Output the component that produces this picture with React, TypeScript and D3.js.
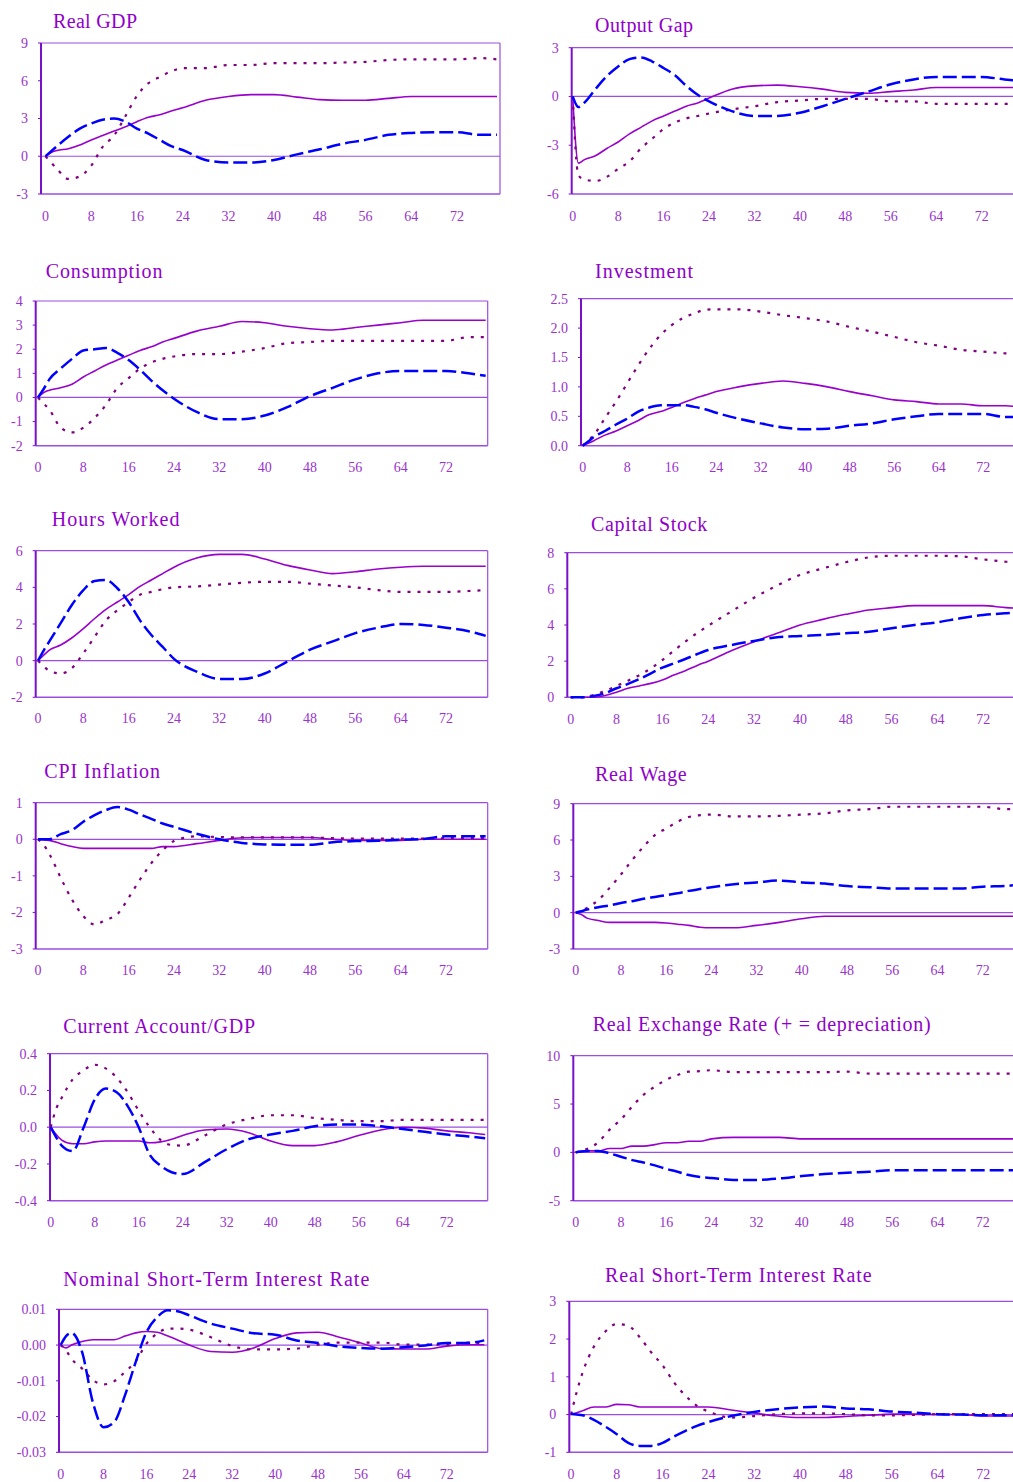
import React from "react";
import * as d3 from "d3";

// Quarters after the shock at which the responses are sampled
const periods = [0, 1, 2, 4, 6, 8, 10, 12, 14, 16, 18, 20, 22, 24, 28, 32, 36, 40, 44, 48, 52, 56, 60, 64, 68, 72, 76, 79];
const xTicks = [0, 8, 16, 24, 32, 40, 48, 56, 64, 72];

// A = solid, B = dotted, C = dashed
const realGdpA = [0, 0.3, 0.45, 0.6, 0.9, 1.3, 1.65, 2.0, 2.35, 2.75, 3.1, 3.3, 3.6, 3.85, 4.45, 4.75, 4.9, 4.9, 4.7, 4.5, 4.45, 4.45, 4.6, 4.75, 4.75, 4.75, 4.75, 4.75];
const realGdpB = [0, -0.5, -1.0, -1.8, -1.6, -0.75, 0.75, 1.65, 3.2, 4.8, 5.8, 6.3, 6.75, 7.0, 7.0, 7.25, 7.25, 7.4, 7.4, 7.4, 7.45, 7.5, 7.65, 7.7, 7.7, 7.7, 7.8, 7.7];
const realGdpC = [0, 0.4, 0.8, 1.55, 2.2, 2.6, 2.9, 3.0, 2.75, 2.2, 1.8, 1.3, 0.8, 0.5, -0.3, -0.5, -0.5, -0.3, 0.15, 0.55, 1.0, 1.3, 1.7, 1.85, 1.9, 1.9, 1.7, 1.7];
const realGdpTicks = [9, 6, 3, 0, -3];

const outputGapA = [0, -4.1, -3.9, -3.65, -3.2, -2.8, -2.3, -1.9, -1.5, -1.2, -0.9, -0.6, -0.4, -0.1, 0.45, 0.65, 0.7, 0.6, 0.45, 0.25, 0.2, 0.3, 0.4, 0.55, 0.55, 0.55, 0.55, 0.55];
const outputGapB = [0, -4.85, -5.1, -5.2, -4.95, -4.45, -4.0, -3.2, -2.6, -2.0, -1.6, -1.35, -1.2, -1.05, -0.8, -0.6, -0.35, -0.25, -0.15, -0.15, -0.15, -0.3, -0.3, -0.45, -0.45, -0.45, -0.45, -0.45];
const outputGapC = [0, -0.65, -0.4, 0.45, 1.25, 1.85, 2.3, 2.4, 2.15, 1.75, 1.3, 0.65, 0.1, -0.3, -0.9, -1.2, -1.2, -1.0, -0.6, -0.15, 0.3, 0.75, 1.05, 1.2, 1.2, 1.2, 1.05, 0.95];
const outputGapTicks = [3, 0, -3, -6];

const consumptionA = [0, 0.2, 0.3, 0.4, 0.55, 0.85, 1.1, 1.35, 1.55, 1.75, 1.95, 2.1, 2.3, 2.45, 2.75, 2.95, 3.15, 3.1, 2.95, 2.85, 2.8, 2.9, 3.0, 3.1, 3.2, 3.2, 3.2, 3.2];
const consumptionB = [0, -0.25, -0.5, -1.25, -1.45, -1.25, -0.85, -0.3, 0.4, 0.8, 1.2, 1.45, 1.6, 1.7, 1.8, 1.8, 1.9, 2.05, 2.25, 2.3, 2.35, 2.35, 2.35, 2.35, 2.35, 2.35, 2.5, 2.5];
const consumptionC = [0, 0.35, 0.75, 1.2, 1.6, 1.95, 2.0, 2.05, 1.85, 1.55, 1.15, 0.7, 0.3, -0.05, -0.6, -0.9, -0.9, -0.75, -0.4, 0.05, 0.4, 0.75, 1.0, 1.1, 1.1, 1.1, 1.0, 0.9];
const consumptionTicks = [4, 3, 2, 1, 0, -1, -2];

const investmentA = [0, 0.04, 0.085, 0.18, 0.25, 0.34, 0.43, 0.53, 0.58, 0.65, 0.73, 0.8, 0.86, 0.92, 1.0, 1.06, 1.1, 1.06, 1.0, 0.92, 0.85, 0.78, 0.75, 0.71, 0.71, 0.68, 0.68, 0.65];
const investmentB = [0, 0.09, 0.18, 0.47, 0.75, 1.06, 1.37, 1.65, 1.88, 2.05, 2.17, 2.25, 2.31, 2.32, 2.32, 2.28, 2.22, 2.17, 2.11, 2.02, 1.94, 1.85, 1.76, 1.7, 1.63, 1.6, 1.57, 1.56];
const investmentC = [0, 0.07, 0.15, 0.25, 0.36, 0.46, 0.58, 0.65, 0.69, 0.69, 0.69, 0.66, 0.62, 0.56, 0.46, 0.38, 0.31, 0.28, 0.29, 0.34, 0.38, 0.45, 0.5, 0.54, 0.54, 0.54, 0.49, 0.49];
const investmentTicks = [2.5, 2.0, 1.5, 1.0, 0.5, 0.0];

const hoursA = [0, 0.3, 0.58, 0.85, 1.25, 1.75, 2.3, 2.8, 3.2, 3.6, 4.05, 4.4, 4.75, 5.1, 5.6, 5.8, 5.8, 5.55, 5.2, 4.95, 4.75, 4.85, 5.0, 5.1, 5.15, 5.15, 5.15, 5.15];
const hoursB = [0, -0.3, -0.55, -0.7, -0.4, 0.4, 1.3, 2.2, 2.75, 3.2, 3.6, 3.75, 3.9, 4.0, 4.05, 4.15, 4.25, 4.3, 4.3, 4.2, 4.1, 4.0, 3.85, 3.75, 3.75, 3.75, 3.8, 3.85];
const hoursC = [0, 0.55, 1.05, 2.05, 3.05, 3.85, 4.35, 4.4, 3.95, 3.2, 2.2, 1.4, 0.75, 0.1, -0.6, -1.0, -1.0, -0.7, -0.05, 0.6, 1.05, 1.5, 1.8, 2.0, 1.95, 1.8, 1.6, 1.35];
const hoursTicks = [6, 4, 2, 0, -2];

const capitalA = [0, 0, 0, 0, 0.1, 0.28, 0.5, 0.63, 0.77, 0.96, 1.23, 1.47, 1.75, 2.0, 2.58, 3.08, 3.54, 4.0, 4.31, 4.59, 4.83, 4.96, 5.07, 5.07, 5.07, 5.07, 4.96, 4.93];
const capitalB = [0, 0, 0, 0.13, 0.35, 0.63, 0.92, 1.23, 1.6, 2.06, 2.58, 3.08, 3.54, 3.96, 4.74, 5.51, 6.18, 6.77, 7.13, 7.47, 7.74, 7.83, 7.83, 7.83, 7.8, 7.63, 7.5, 7.45];
const capitalC = [0, 0, 0, 0.07, 0.22, 0.5, 0.74, 1.01, 1.33, 1.64, 1.88, 2.12, 2.38, 2.62, 2.89, 3.12, 3.32, 3.39, 3.45, 3.54, 3.63, 3.82, 4.0, 4.15, 4.37, 4.55, 4.65, 4.7];
const capitalTicks = [8, 6, 4, 2, 0];

const cpiA = [0, -0.02, -0.03, -0.12, -0.2, -0.25, -0.25, -0.25, -0.25, -0.25, -0.25, -0.25, -0.2, -0.2, -0.12, -0.03, 0.04, 0.05, 0.05, 0.05, 0, -0.03, -0.03, -0.03, 0, 0, 0, 0];
const cpiB = [0, -0.15, -0.4, -1.05, -1.65, -2.1, -2.33, -2.2, -2.05, -1.6, -1.1, -0.65, -0.3, -0.05, 0.08, 0.06, 0.05, 0.05, 0.05, 0.05, 0.03, 0.02, 0.02, 0.02, 0.02, 0.03, 0.03, 0.03];
const cpiC = [0, 0, 0, 0.14, 0.25, 0.48, 0.66, 0.8, 0.88, 0.81, 0.68, 0.56, 0.43, 0.34, 0.15, 0, -0.1, -0.14, -0.15, -0.15, -0.08, -0.05, -0.04, -0.01, 0.01, 0.08, 0.08, 0.08];
const cpiTicks = [1, 0, -1, -2, -3];

const wageA = [0, -0.15, -0.45, -0.65, -0.8, -0.8, -0.8, -0.8, -0.8, -0.85, -0.95, -1.05, -1.2, -1.25, -1.25, -1.05, -0.8, -0.5, -0.3, -0.3, -0.3, -0.3, -0.3, -0.3, -0.3, -0.3, -0.3, -0.3];
const wageB = [0, 0.15, 0.4, 1.05, 2.05, 3.15, 4.35, 5.45, 6.4, 6.95, 7.5, 7.9, 8.05, 8.1, 7.95, 7.95, 8.0, 8.1, 8.2, 8.45, 8.55, 8.75, 8.75, 8.75, 8.75, 8.75, 8.55, 8.55];
const wageC = [0, 0.12, 0.25, 0.45, 0.6, 0.8, 0.95, 1.15, 1.3, 1.45, 1.6, 1.8, 1.95, 2.1, 2.35, 2.5, 2.65, 2.5, 2.4, 2.2, 2.1, 2.0, 2.0, 2.0, 2.0, 2.15, 2.2, 2.4];
const wageTicks = [9, 6, 3, 0, -3];

const currentAccountA = [0, -0.04, -0.07, -0.09, -0.09, -0.08, -0.075, -0.075, -0.075, -0.075, -0.085, -0.08, -0.065, -0.045, -0.015, -0.01, -0.03, -0.075, -0.1, -0.1, -0.08, -0.045, -0.015, 0, -0.005, -0.02, -0.03, -0.04];
const currentAccountB = [0, 0.1, 0.16, 0.26, 0.31, 0.34, 0.32, 0.27, 0.19, 0.09, 0, -0.07, -0.097, -0.1, -0.045, 0.015, 0.045, 0.065, 0.065, 0.05, 0.04, 0.033, 0.033, 0.04, 0.04, 0.04, 0.04, 0.04];
const currentAccountC = [0, -0.055, -0.1, -0.13, 0.0, 0.15, 0.21, 0.19, 0.115, 0.0, -0.15, -0.21, -0.245, -0.255, -0.19, -0.12, -0.065, -0.04, -0.02, 0.005, 0.015, 0.015, 0.005, -0.01, -0.025, -0.04, -0.05, -0.06];
const currentAccountTicks = [0.4, 0.2, 0.0, -0.2, -0.4];

const exchangeRateA = [0, 0.1, 0.15, 0.15, 0.4, 0.4, 0.65, 0.65, 0.8, 1.0, 1.0, 1.15, 1.15, 1.4, 1.55, 1.55, 1.55, 1.4, 1.4, 1.4, 1.4, 1.4, 1.4, 1.4, 1.4, 1.4, 1.4, 1.4];
const exchangeRateB = [0, 0.15, 0.35, 1.05, 2.35, 3.4, 4.75, 5.95, 6.8, 7.5, 8.0, 8.35, 8.4, 8.5, 8.3, 8.3, 8.3, 8.3, 8.3, 8.35, 8.15, 8.15, 8.15, 8.15, 8.15, 8.15, 8.15, 8.15];
const exchangeRateC = [0, 0.1, 0.15, 0.15, -0.1, -0.45, -0.8, -1.05, -1.35, -1.7, -2.0, -2.35, -2.55, -2.65, -2.85, -2.85, -2.7, -2.45, -2.25, -2.1, -2.0, -1.85, -1.85, -1.85, -1.85, -1.85, -1.85, -1.85];
const exchangeRateTicks = [10, 5, 0, -5];

const nominalRateA = [0, -0.0008, 0, 0.001, 0.0015, 0.0015, 0.0015, 0.0025, 0.0034, 0.0038, 0.0036, 0.0025, 0.0013, 0, -0.0018, -0.002, -0.0008, 0.0018, 0.0034, 0.0036, 0.0022, 0.0006, -0.001, -0.0011, -0.0011, -0.0003, 0.0001, 0.0001];
const nominalRateB = [0, -0.0015, -0.0038, -0.0066, -0.0098, -0.011, -0.0101, -0.0075, -0.0045, 0.0004, 0.0032, 0.0046, 0.0046, 0.0043, 0.0022, -0.0003, -0.0012, -0.0012, -0.001, 0.0001, 0.0007, 0.0007, 0.0007, 0.0001, 0.0001, 0.0001, 0.0007, 0.0004];
const nominalRateC = [0, 0.0025, 0.0034, -0.002, -0.016, -0.023, -0.0215, -0.014, -0.0047, 0.0036, 0.0078, 0.0097, 0.0094, 0.0083, 0.006, 0.0046, 0.0033, 0.0029, 0.0013, 0.0006, -0.0004, -0.0008, -0.001, -0.0006, -0.0001, 0.0006, 0.0006, 0.0013];
const nominalRateTicks = [0.01, 0.0, -0.01, -0.02, -0.03];

const realRateA = [0, 0.05, 0.1, 0.2, 0.2, 0.27, 0.26, 0.2, 0.2, 0.2, 0.2, 0.2, 0.2, 0.2, 0.12, 0.04, -0.04, -0.08, -0.08, -0.05, -0.02, 0.01, 0.01, 0, 0, -0.04, -0.04, -0.04];
const realRateB = [0, 0.6, 1.1, 1.8, 2.2, 2.4, 2.35, 2.05, 1.65, 1.3, 0.85, 0.5, 0.23, 0.08, -0.08, -0.04, 0.01, 0.03, 0.03, 0.01, -0.02, -0.02, -0.01, 0.01, 0.01, 0.01, 0.01, 0.01];
const realRateC = [0.02, 0, -0.02, -0.14, -0.32, -0.52, -0.75, -0.83, -0.83, -0.75, -0.58, -0.43, -0.3, -0.2, -0.04, 0.07, 0.14, 0.19, 0.21, 0.16, 0.14, 0.08, 0.05, 0.01, 0, -0.02, -0.02, -0.02];
const realRateTicks = [3, 2, 1, 0, -1];

// Panel layout (pixel frames) and which data each panel uses
type Panel = {
  title: string; tx: number; ty: number; tw: number;
  left: number; top: number; right: number; bottom: number;
  x0: number; x72: number; xLabelY: number;
  domain: [number, number]; ticks: number[]; fmt: string;
  series: number[][];
};

const panels: Panel[] = [
  { title: "Real GDP", tx: 53, ty: 28, tw: 84, left: 41, top: 43, right: 500, bottom: 194, x0: 45.5, x72: 457, xLabelY: 220.5, domain: [-3, 9], ticks: realGdpTicks, fmt: "d", series: [realGdpA, realGdpB, realGdpC] },
  { title: "Output Gap", tx: 595, ty: 32, tw: 98, left: 571.7, top: 47.7, right: 1040, bottom: 194, x0: 572.7, x72: 981.7, xLabelY: 220.5, domain: [-6, 3], ticks: outputGapTicks, fmt: "d", series: [outputGapA, outputGapB, outputGapC] },
  { title: "Consumption", tx: 45.7, ty: 278, tw: 116.7, left: 35.7, top: 301, right: 487.7, bottom: 445.7, x0: 38, x72: 446, xLabelY: 471.5, domain: [-2, 4], ticks: consumptionTicks, fmt: "d", series: [consumptionA, consumptionB, consumptionC] },
  { title: "Investment", tx: 595, ty: 278, tw: 98, left: 581, top: 298.7, right: 1040, bottom: 445.7, x0: 582.7, x72: 983.3, xLabelY: 471.5, domain: [0, 2.5], ticks: investmentTicks, fmt: ".1f", series: [investmentA, investmentB, investmentC] },
  { title: "Hours Worked", tx: 51.7, ty: 525.5, tw: 127.7, left: 35.7, top: 550.7, right: 487.7, bottom: 697.3, x0: 38, x72: 446, xLabelY: 723, domain: [-2, 6], ticks: hoursTicks, fmt: "d", series: [hoursA, hoursB, hoursC] },
  { title: "Capital Stock", tx: 591, ty: 530.5, tw: 116.3, left: 567.3, top: 552.7, right: 1040, bottom: 697.3, x0: 570.7, x72: 983.3, xLabelY: 724, domain: [0, 8], ticks: capitalTicks, fmt: "d", series: [capitalA, capitalB, capitalC] },
  { title: "CPI Inflation", tx: 44.3, ty: 778, tw: 115.7, left: 35.7, top: 802.7, right: 487.7, bottom: 949, x0: 38, x72: 446, xLabelY: 975, domain: [-3, 1], ticks: cpiTicks, fmt: "d", series: [cpiA, cpiB, cpiC] },
  { title: "Real Wage", tx: 595, ty: 780.5, tw: 91.7, left: 573.3, top: 803.7, right: 1040, bottom: 949, x0: 575.7, x72: 982.7, xLabelY: 975, domain: [-3, 9], ticks: wageTicks, fmt: "d", series: [wageA, wageB, wageC] },
  { title: "Current Account/GDP", tx: 63.3, ty: 1032.5, tw: 191.7, left: 50, top: 1053.7, right: 487.7, bottom: 1200.7, x0: 50.7, x72: 446.7, xLabelY: 1226.7, domain: [-0.4, 0.4], ticks: currentAccountTicks, fmt: ".1f", series: [currentAccountA, currentAccountB, currentAccountC] },
  { title: "Real Exchange Rate (+ = depreciation)", tx: 592.7, ty: 1030.5, tw: 338, left: 573.3, top: 1055.7, right: 1040, bottom: 1200.7, x0: 575.7, x72: 982.7, xLabelY: 1226.7, domain: [-5, 10], ticks: exchangeRateTicks, fmt: "d", series: [exchangeRateA, exchangeRateB, exchangeRateC] },
  { title: "Nominal Short-Term Interest Rate", tx: 63.3, ty: 1286, tw: 306, left: 59, top: 1309.3, right: 487.7, bottom: 1452.3, x0: 60.7, x72: 446.7, xLabelY: 1478.7, domain: [-0.03, 0.01], ticks: nominalRateTicks, fmt: ".2f", series: [nominalRateA, nominalRateB, nominalRateC] },
  { title: "Real Short-Term Interest Rate", tx: 605, ty: 1282, tw: 266.7, left: 569.3, top: 1301.3, right: 1040, bottom: 1452.3, x0: 571, x72: 983.3, xLabelY: 1478.7, domain: [-1, 3], ticks: realRateTicks, fmt: "d", series: [realRateA, realRateB, realRateC] },
];

const FONT = "'Liberation Serif', 'Times New Roman', serif";
const TITLE_COLOR = "#9000cc";
const LABEL_COLOR = "#9933cc";
const FRAME_COLOR = "#9a4ee0";
const AXIS_COLOR = "#7a10c8";

// tick labels use a plain hyphen for negatives
const locale = d3.formatLocale({ decimal: ".", thousands: ",", grouping: [3], currency: ["", ""], minus: "-" });

const seriesStyles = [
  { stroke: "#9900cc", width: 1.6, dash: undefined as string | undefined },
  { stroke: "#800080", width: 2.2, dash: "3,7" },
  { stroke: "#0000ff", width: 2.5, dash: "14,5" },
];

function PanelChart({ p }: { p: Panel }) {
  const x = d3.scaleLinear().domain([0, 72]).range([p.x0, p.x72]);
  const y = d3.scaleLinear().domain(p.domain).range([p.bottom, p.top]);
  const fmt = locale.format(p.fmt);
  const line = d3
    .line<number>()
    .x((_, i) => x(periods[i]))
    .y((d) => y(d))
    .curve(d3.curveMonotoneX);
  const zeroY = y(0);
  const hasZeroLine = p.domain[0] < 0 && p.domain[1] > 0;

  return (
    <g>
      <text x={p.tx} y={p.ty} fontFamily={FONT} fontSize={20} fill={TITLE_COLOR} textLength={p.tw} lengthAdjust="spacing">
        {p.title}
      </text>
      {/* plot frame */}
      <line x1={p.left} x2={p.right} y1={p.top} y2={p.top} stroke={FRAME_COLOR} strokeWidth={1.2} />
      <line x1={p.left} x2={p.right} y1={p.bottom} y2={p.bottom} stroke={FRAME_COLOR} strokeWidth={1.4} />
      <line x1={p.right} x2={p.right} y1={p.top} y2={p.bottom} stroke={FRAME_COLOR} strokeWidth={1.2} />
      {hasZeroLine && (
        <line x1={p.left} x2={p.right} y1={zeroY} y2={zeroY} stroke={FRAME_COLOR} strokeWidth={1.2} />
      )}
      <line x1={p.left} x2={p.left} y1={p.top} y2={p.bottom} stroke={AXIS_COLOR} strokeWidth={2} />
      {/* y ticks */}
      {p.ticks.map((t) => (
        <g key={t}>
          <line x1={p.left - 3} x2={p.left} y1={y(t)} y2={y(t)} stroke={AXIS_COLOR} strokeWidth={1} />
          <text x={p.left - 13} y={y(t)} dy="0.35em" textAnchor="end" fontFamily={FONT} fontSize={14} fill={LABEL_COLOR}>
            {fmt(t)}
          </text>
        </g>
      ))}
      {/* x tick labels */}
      {xTicks.map((t) => (
        <text key={t} x={x(t)} y={p.xLabelY} textAnchor="middle" fontFamily={FONT} fontSize={14} fill={LABEL_COLOR}>
          {t}
        </text>
      ))}
      {/* response lines */}
      {p.series.map((s, i) => (
        <path
          key={i}
          d={line(s) || ""}
          fill="none"
          stroke={seriesStyles[i].stroke}
          strokeWidth={seriesStyles[i].width}
          strokeDasharray={seriesStyles[i].dash}
          strokeLinejoin="round"
        />
      ))}
    </g>
  );
}

export default function App() {
  return (
    <div style={{ position: "absolute", left: 0, top: 0, width: 1013, height: 1482, background: "#fff", overflow: "hidden" }}>
      <svg width={1013} height={1482} viewBox="0 0 1013 1482" style={{ display: "block" }}>
        <rect x={0} y={0} width={1013} height={1482} fill="#ffffff" />
        {panels.map((p) => (
          <PanelChart key={p.title} p={p} />
        ))}
      </svg>
    </div>
  );
}
